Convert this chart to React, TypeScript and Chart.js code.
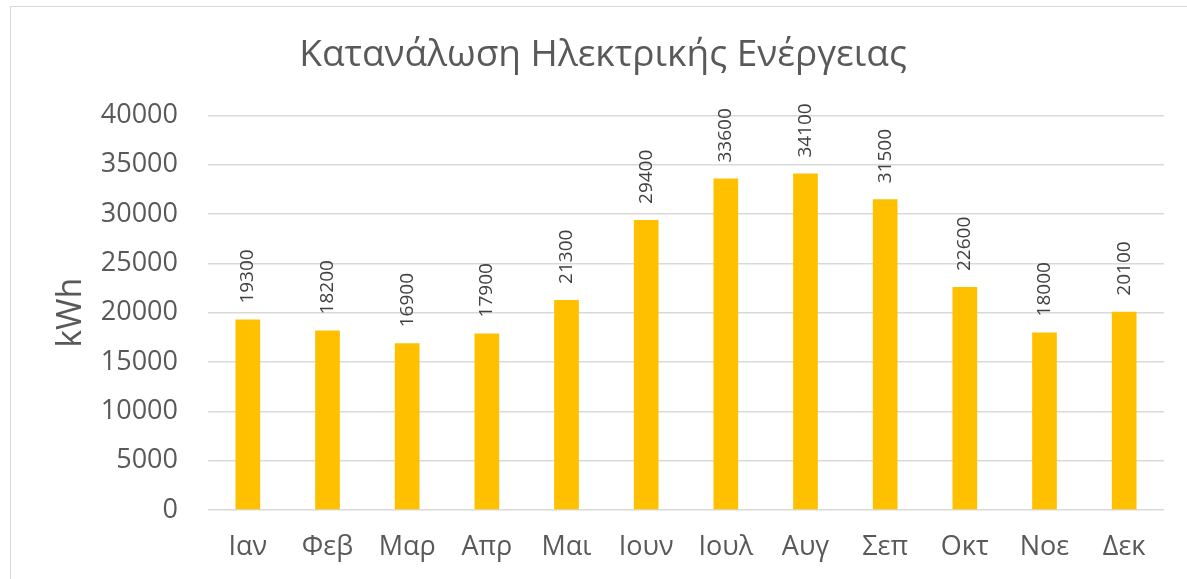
import React, { useEffect, useRef } from "react";
import { Chart, registerables } from "chart.js";

Chart.register(...registerables);

const months = ["Ιαν", "Φεβ", "Μαρ", "Απρ", "Μαι", "Ιουν", "Ιουλ", "Αυγ", "Σεπ", "Οκτ", "Νοε", "Δεκ"];
const consumption = [19300, 18200, 16900, 17900, 21300, 29400, 33600, 34100, 31500, 22600, 18000, 20100];
const titleText = "Κατανάλωση Ηλεκτρικής Ενέργειας";
const yAxisTitle = "kWh";

const FONT = "'Open Sans', sans-serif";

const valueLabels = {
  id: "valueLabels",
  afterDatasetsDraw(chart: any) {
    const ctx = chart.ctx;
    const meta = chart.getDatasetMeta(0);
    const data = chart.data.datasets[0].data as number[];
    ctx.save();
    ctx.font = `19px ${FONT}`;
    ctx.fillStyle = "#404040";
    ctx.textAlign = "left";
    ctx.textBaseline = "middle";
    meta.data.forEach((bar: any, i: number) => {
      ctx.save();
      ctx.translate(bar.x, bar.y - 16);
      ctx.rotate(-Math.PI / 2);
      ctx.fillText(String(data[i]), 0, 0);
      ctx.restore();
    });
    ctx.restore();
  },
};

export default function App() {
  const ref = useRef<HTMLCanvasElement>(null);
  useEffect(() => {
    document.body.style.margin = "0";
    const chart = new Chart(ref.current!, {
      type: "bar",
      data: {
        labels: months,
        datasets: [
          {
            data: consumption,
            backgroundColor: "#FFC000",
            categoryPercentage: 1,
            barPercentage: 0.31,
          },
        ],
      },
      options: {
        animation: false,
        responsive: false,
        maintainAspectRatio: false,
        layout: { padding: { top: 0, right: 23, bottom: 0, left: 42 } },
        plugins: {
          legend: { display: false },
          tooltip: { enabled: false },
          title: {
            display: true,
            text: titleText,
            color: "#595959",
            font: { family: FONT, size: 37, weight: "normal" as any, lineHeight: 1.2 },
            padding: { top: 33, bottom: 38 },
          },
        },
        scales: {
          x: {
            afterFit: (s: any) => {
              s.height = 69;
            },
            grid: { display: false, drawTicks: false },
            border: { display: false },
            ticks: {
              color: "#595959",
              font: { family: FONT, size: 27 },
              padding: 21,
              maxRotation: 0,
            },
          },
          y: {
            min: 0,
            max: 40000,
            afterFit: (s: any) => {
              s.width = 166;
            },
            grid: { color: "#d9d9d9", lineWidth: 1.5, drawTicks: false },
            border: { display: false },
            ticks: {
              stepSize: 5000,
              color: "#595959",
              font: { family: FONT, size: 27 },
              padding: 30,
              callback: (v: any) => String(v),
            },
            title: {
              display: true,
              text: yAxisTitle,
              color: "#595959",
              font: { family: FONT, size: 34 },
              padding: { top: 9, bottom: 0 },
            },
          },
        },
      },
      plugins: [valueLabels],
    });
    return () => chart.destroy();
  }, []);
  return (
    <div style={{ position: "relative", width: 1187, height: 579, overflow: "hidden", background: "#fff" }}>
      <canvas ref={ref} width={1187} height={579} style={{ position: "absolute", left: 0, top: 0 }} />
      <div
        style={{
          position: "absolute",
          left: 10,
          top: 6,
          width: 1200,
          height: 600,
          border: "1.5px solid #d9d9d9",
          pointerEvents: "none",
        }}
      />
    </div>
  );
}
